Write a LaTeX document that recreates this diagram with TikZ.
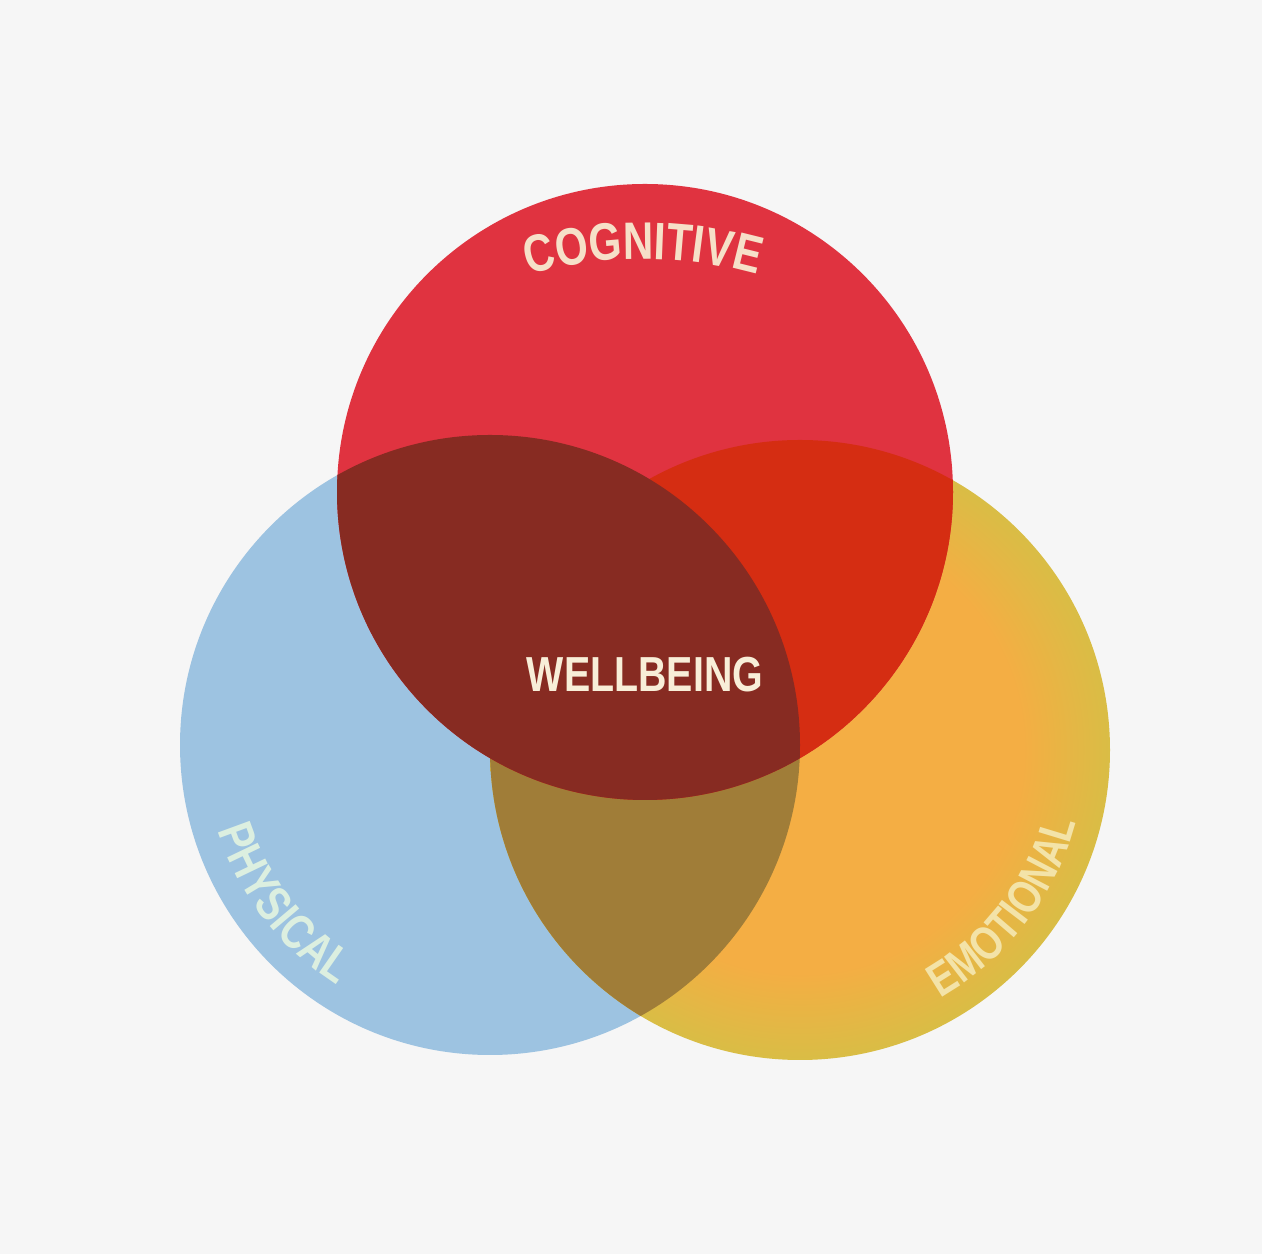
\documentclass[tikz,border=0pt]{standalone}
\usepackage{fontspec}
\usetikzlibrary{decorations.text}
\newfontfamily\vennfont[FakeStretch=0.8]{Liberation Sans}

\definecolor{paper}{HTML}{F6F6F6}
\definecolor{cogfill}{HTML}{E03340}
\definecolor{phyfill}{HTML}{9DC3E1}
\definecolor{emoorange}{HTML}{F4AE44}
\definecolor{emoyellow}{HTML}{D9BD45}
\definecolor{cogphy}{HTML}{872B22}
\definecolor{cogemo}{HTML}{D52D12}
\definecolor{phyemo}{HTML}{A07D38}
\definecolor{cogtext}{HTML}{F6E0C8}
\definecolor{welltext}{HTML}{F8EED8}
\definecolor{phytext}{HTML}{DCEFE0}
\definecolor{emotext}{HTML}{F3E3A8}

% orange core, yellow rim (path box fills the inner 50bp)
\pgfdeclareradialshading{emoglow}{\pgfpoint{0bp}{0bp}}{color(0bp)=(emoorange); color(18bp)=(emoorange); color(25bp)=(emoyellow); color(50bp)=(emoyellow)}

\newcommand\cogtype{\color{cogtext}\vennfont\bfseries\fontsize{30}{30}\selectfont}
\newcommand\phytype{\color{phytext}\vennfont\bfseries\fontsize{28}{28}\selectfont}
\newcommand\emotype{\color{emotext}\vennfont\bfseries\fontsize{27}{27}\selectfont}

\tikzset{
    venntext/.style = {font=\vennfont\bfseries\fontsize{28}{28}\selectfont, text=welltext, inner sep=0pt},
    arctext/.style = {decorate, decoration={text along path, text align=center, text={#1}}},
}

\begin{document}
\begin{tikzpicture}[x=0.02cm, y=0.02cm]

	% canvas
	\useasboundingbox (0,0) rectangle (1262,1254);
	\fill[paper] (0,0) rectangle (1262,1254);

	% circle centres
	\coordinate (cog) at (645,762);
	\coordinate (phy) at (490,509);
	\coordinate (emo) at (800,504);
	\coordinate (cogtop) at (643,575);

	% the three sets
	\fill[phyfill] (phy) circle[radius=310];
	\shade[shading=emoglow] (emo) circle[radius=310];
	\fill[cogfill] (cog) circle[radius=308];

	%% overlaps
	\begin{scope}
		\clip (phy) circle[radius=310];
		\fill[phyemo] (emo) circle[radius=310];
	\end{scope}
	\begin{scope}
		\clip (emo) circle[radius=310];
		\fill[cogemo] (cog) circle[radius=308];
	\end{scope}
	% also covers the middle
	\begin{scope}
		\clip (phy) circle[radius=310];
		\fill[cogphy] (cog) circle[radius=308];
	\end{scope}

	% labels
	\node (well) [venntext] at (645,579) {WELLBEING};
	\path[arctext={|\cogtype|COGNITIVE}] ([shift={(112:420)}]cogtop) arc[start angle=112, end angle=68, radius=420];
	\path[arctext={|\phytype|PHYSICAL}] ([shift={(185:285)}]phy) arc[start angle=185, end angle=250, radius=285];
	\path[arctext={|\emotype|EMOTIONAL}] ([shift={(290:285)}]emo) arc[start angle=290, end angle=355, radius=285];

\end{tikzpicture}
\end{document}
